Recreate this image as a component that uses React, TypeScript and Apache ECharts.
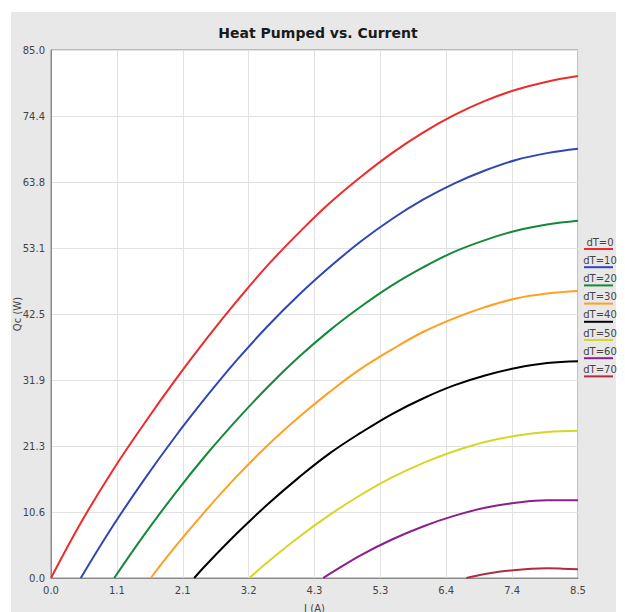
import React, { useEffect, useRef } from "react";
import * as echarts from "echarts";

const seriesNames = ["dT=0", "dT=10", "dT=20", "dT=30", "dT=40", "dT=50", "dT=60", "dT=70"];
const seriesColors = ["#ee2a2a", "#2f46b4", "#14893a", "#ffa020", "#000000", "#d6d626", "#8c1f8c", "#b02c40"];

const dT0 = [[0, 0], [0.5, 9.2], [1, 17.4], [1.5, 24.8], [2, 31.8], [2.5, 38.4], [3, 44.6], [3.5, 50.4], [4, 55.6], [4.5, 60.4], [5, 64.6], [5.5, 68.4], [6, 71.7], [6.5, 74.5], [7, 76.8], [7.5, 78.6], [8, 79.9], [8.5, 80.8]];
const dT10 = [[0.48, 0], [1, 8.4], [1.5, 15.8], [2, 22.7], [2.5, 29.1], [3, 35.1], [3.5, 40.6], [4, 45.6], [4.5, 50.1], [5, 54.2], [5.5, 57.8], [6, 60.9], [6.5, 63.5], [7, 65.6], [7.5, 67.3], [8, 68.4], [8.5, 69.1]];
const dT20 = [[1.02, 0], [1.5, 6.9], [2, 13.6], [2.5, 19.8], [3, 25.5], [3.5, 30.8], [4, 35.6], [4.5, 39.9], [5, 43.7], [5.5, 47.1], [6, 50.0], [6.5, 52.5], [7, 54.4], [7.5, 55.9], [8, 56.9], [8.5, 57.5]];
const dT30 = [[1.61, 0], [2, 5.0], [2.5, 10.9], [3, 16.4], [3.5, 21.4], [4, 25.9], [4.5, 30.0], [5, 33.7], [5.5, 36.8], [6, 39.6], [6.5, 41.8], [7, 43.6], [7.5, 45.0], [8, 45.8], [8.5, 46.2]];
const dT40 = [[2.31, 0], [2.5, 2.1], [3, 7.2], [3.5, 11.9], [4, 16.2], [4.5, 20.1], [5, 23.4], [5.5, 26.4], [6, 28.9], [6.5, 31.0], [7, 32.6], [7.5, 33.8], [8, 34.6], [8.5, 34.9]];
const dT50 = [[3.2, 0], [3.5, 2.6], [4, 6.6], [4.5, 10.2], [5, 13.4], [5.5, 16.2], [6, 18.5], [6.5, 20.4], [7, 21.9], [7.5, 22.9], [8, 23.5], [8.5, 23.7]];
const dT60 = [[4.39, 0], [4.5, 0.7], [5, 3.7], [5.5, 6.2], [6, 8.3], [6.5, 10.0], [7, 11.3], [7.5, 12.1], [8, 12.5], [8.5, 12.5]];
const dT70 = [[6.7, 0], [7, 0.65], [7.25, 1.05], [7.5, 1.3], [7.75, 1.48], [8, 1.55], [8.25, 1.5], [8.5, 1.4]];

const seriesData = [dT0, dT10, dT20, dT30, dT40, dT50, dT60, dT70];

const xMin = 0;
const xMax = 8.5;
const xInterval = 1.0625;
const yMin = 0;
const yMax = 85;
const yInterval = 10.625;

const FONT = "DejaVu Sans, Verdana, sans-serif";

export default function App() {
  const ref = useRef<HTMLDivElement>(null);

  useEffect(() => {
    if (!ref.current) return;
    const chart = echarts.init(ref.current, null, { renderer: "svg" });

    const legendGraphics: any[] = [];
    seriesNames.forEach((name, i) => {
      const y0 = 242 + i * 18.2;
      legendGraphics.push({
        type: "text",
        x: 600,
        y: y0,
        style: {
          text: name,
          fill: "#444",
          font: `10px ${FONT}`,
          textAlign: "center",
          textVerticalAlign: "middle",
        },
      });
      legendGraphics.push({
        type: "line",
        shape: { x1: 584, y1: y0 + 7, x2: 613, y2: y0 + 7 },
        style: { stroke: seriesColors[i], lineWidth: 2 },
      });
    });

    chart.setOption({
      animation: false,
      backgroundColor: "#ffffff",
      title: {
        text: "Heat Pumped vs. Current",
        left: 313,
        top: 21,
        textAlign: "center",
        textStyle: { fontFamily: FONT, fontSize: 14, fontWeight: "bold", color: "#1a1a1a" },
      },
      graphic: [
        {
          type: "rect",
          z: -10,
          silent: true,
          shape: { x: 11, y: 12, width: 605, height: 600 },
          style: { fill: "#e8e8e8" },
        },
        ...legendGraphics,
      ],
      grid: {
        left: 51,
        top: 50,
        right: 47,
        bottom: 34,
        containLabel: false,
        outerBoundsMode: "none",
        show: true,
        backgroundColor: "#ffffff",
        borderColor: "#8a8a8a",
        borderWidth: 1,
      },
      xAxis: {
        type: "value",
        min: xMin,
        max: xMax,
        interval: xInterval,
        name: "I (A)",
        nameLocation: "middle",
        nameGap: 25,
        nameMoveOverlap: false,
        nameTextStyle: { fontFamily: FONT, fontSize: 10, color: "#444" },
        axisLine: { show: true, lineStyle: { color: "#8a8a8a" } },
        axisTick: { show: false },
        axisLabel: {
          fontFamily: FONT,
          fontSize: 10,
          color: "#444",
          margin: 7,
          formatter: (v: number) => v.toFixed(1),
        },
        splitLine: { show: true, lineStyle: { color: "#e2e2e2" } },
      },
      yAxis: {
        type: "value",
        min: yMin,
        max: yMax,
        interval: yInterval,
        name: "Qc (W)",
        nameLocation: "middle",
        nameGap: 29,
        nameRotate: 90,
        nameMoveOverlap: false,
        nameTextStyle: { fontFamily: FONT, fontSize: 10, color: "#444" },
        axisLine: { show: true, lineStyle: { color: "#8a8a8a" } },
        axisTick: { show: false },
        axisLabel: {
          fontFamily: FONT,
          fontSize: 10,
          color: "#444",
          margin: 6,
          formatter: (v: number) => v.toFixed(1),
        },
        splitLine: { show: true, lineStyle: { color: "#e2e2e2" } },
      },
      series: seriesNames.map((name, i) => ({
        name,
        type: "line",
        data: seriesData[i],
        smooth: 0.4,
        showSymbol: false,
        symbol: "none",
        lineStyle: { color: seriesColors[i], width: 2 },
        itemStyle: { color: seriesColors[i] },
      })),
    });

    return () => chart.dispose();
  }, []);

  return (
    <div
      ref={ref}
      style={{ position: "absolute", left: 0, top: 0, width: 625, height: 612 }}
    />
  );
}
